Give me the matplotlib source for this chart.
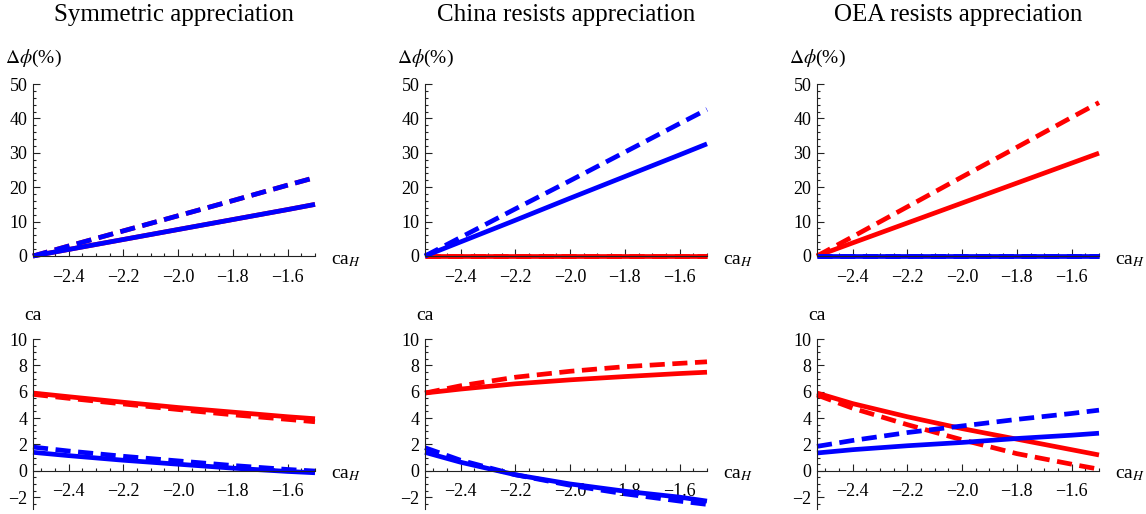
import numpy as np
import matplotlib
matplotlib.use('Agg')
import matplotlib.pyplot as plt
import matplotlib.transforms as mtransforms
from matplotlib.ticker import MultipleLocator, FixedLocator

plt.rcParams['font.family'] = ['Liberation Serif', 'DejaVu Serif']
plt.rcParams['mathtext.fontset'] = 'stix'

##############
#data#
##############
titles = ['Symmetric appreciation', 'China resists appreciation', 'OEA resists appreciation']
ca_h = [-2.53, -2.4, -2.2, -2.0, -1.8, -1.6, -1.5]

# top row: change in phi (%), red = China, blue = OEA
phi_red_solid = [
    [0, 1.9, 4.8, 7.7, 10.6, 13.5, 15.0],
    [0, 0, 0, 0, 0, 0, 0],
    [0, 3.8, 9.6, 15.4, 21.2, 27.0, 29.9],
]
phi_red_dash = [
    [0, 2.9, 7.3, 11.7, 16.1, 20.6, 22.8],
    [0, 0, 0, 0, 0, 0, 0],
    [0, 5.6, 14.3, 23.0, 31.6, 40.3, 44.6],
]
phi_blue_solid = [
    [0, 1.9, 4.8, 7.7, 10.6, 13.5, 15.0],
    [0, 4.1, 10.4, 16.8, 23.1, 29.4, 32.6],
    [0, 0, 0, 0, 0, 0, 0],
]
phi_blue_dash = [
    [0, 2.9, 7.3, 11.7, 16.1, 20.6, 22.8],
    [0, 5.4, 13.7, 21.9, 30.2, 38.5, 42.6],
    [0, 0, 0, 0, 0, 0, 0],
]

# bottom row: current account
ca_red_solid = [
    [5.9, 5.62, 5.2, 4.8, 4.45, 4.1, 3.95],
    [5.9, 6.2, 6.6, 6.9, 7.15, 7.38, 7.48],
    [5.9, 5.1, 4.1, 3.2, 2.4, 1.6, 1.2],
]
ca_red_dash = [
    [5.8, 5.5, 5.07, 4.65, 4.25, 3.9, 3.72],
    [5.9, 6.45, 7.1, 7.55, 7.9, 8.15, 8.27],
    [5.75, 4.75, 3.5, 2.35, 1.3, 0.5, 0.12],
]
ca_blue_solid = [
    [1.4, 1.15, 0.8, 0.5, 0.2, -0.05, -0.15],
    [1.4, 0.65, -0.3, -1.0, -1.55, -2.0, -2.3],
    [1.35, 1.6, 1.9, 2.15, 2.45, 2.7, 2.85],
]
ca_blue_dash = [
    [1.8, 1.5, 1.1, 0.75, 0.4, 0.1, -0.02],
    [1.75, 0.8, -0.3, -1.1, -1.75, -2.3, -2.55],
    [1.85, 2.3, 2.9, 3.4, 3.9, 4.35, 4.6],
]

W, H = 1146., 514.
lefts = [33, 425, 817]
width = 282


def style_axes(ax, ylo, yhi, ymajor, yminor):
    ax.set_xlim(-2.53, -1.5)
    ax.set_ylim(ylo, yhi)
    for s in ['top', 'right']:
        ax.spines[s].set_visible(False)
    ax.spines['bottom'].set_position(('data', 0))
    for s in ['left', 'bottom']:
        ax.spines[s].set_linewidth(0.8)
        ax.spines[s].set_color('#222222')
    ax.xaxis.set_major_locator(FixedLocator([-2.4, -2.2, -2.0, -1.8, -1.6]))
    ax.xaxis.set_minor_locator(FixedLocator(np.arange(-2.5, -1.49, 0.05)))
    ax.yaxis.set_major_locator(MultipleLocator(ymajor))
    ax.yaxis.set_minor_locator(MultipleLocator(yminor))
    ax.tick_params(which='both', direction='in', colors='#222222', width=0.8, labelsize=13, labelcolor='black')
    ax.tick_params(which='major', length=5)
    ax.tick_params(which='minor', length=2.5)
    ax.tick_params(axis='x', pad=9)
    ax.tick_params(axis='y', pad=4)
    ax.set_xticklabels(['\u22122.4', '\u22122.2', '\u22122.0', '\u22121.8', '\u22121.6'])
    tr = mtransforms.blended_transform_factory(ax.transAxes, ax.transData)
    ax.annotate(r'ca$_{H}$', xy=(1.055, 0), xycoords=tr, xytext=(0, -3),
                textcoords='offset points', fontsize=14, ha='left', va='center')


def draw(ax, rs, rd, bs, bd):
    lw = 3.4
    ax.plot(ca_h, rs, color='red', lw=lw, clip_on=False, solid_capstyle='butt')
    ax.plot(ca_h, rd, color='red', lw=lw, ls=(0, (3.2, 1.6)), clip_on=False)
    ax.plot(ca_h, bs, color='blue', lw=lw, clip_on=False, solid_capstyle='butt')
    ax.plot(ca_h, bd, color='blue', lw=lw, ls=(0, (3.2, 1.6)), clip_on=False)


fig = plt.figure(figsize=(W / 100, H / 100), dpi=100)

for i in range(3):
    # top row
    ax = fig.add_axes([lefts[i] / W, 1 - 256 / H, width / W, 172 / H])
    style_axes(ax, 0, 50, 10, 2)
    draw(ax, phi_red_solid[i], phi_red_dash[i], phi_blue_solid[i], phi_blue_dash[i])
    ax.text(0, 1.151, r'$\Delta\phi$(%)', transform=ax.transAxes, fontsize=14, ha='center', va='center')
    ax.text(0.5, 1.40, titles[i], transform=ax.transAxes, fontsize=18, ha='center', va='center')

    # bottom row
    ax = fig.add_axes([lefts[i] / W, 1 - 509 / H, width / W, 170 / H])
    style_axes(ax, -2.9, 10, 2, 0.5)
    draw(ax, ca_red_solid[i], ca_red_dash[i], ca_blue_solid[i], ca_blue_dash[i])
    ax.text(0, 1.141, 'ca', transform=ax.transAxes, fontsize=14, ha='center', va='center')

plt.savefig('out.png', dpi=100)
